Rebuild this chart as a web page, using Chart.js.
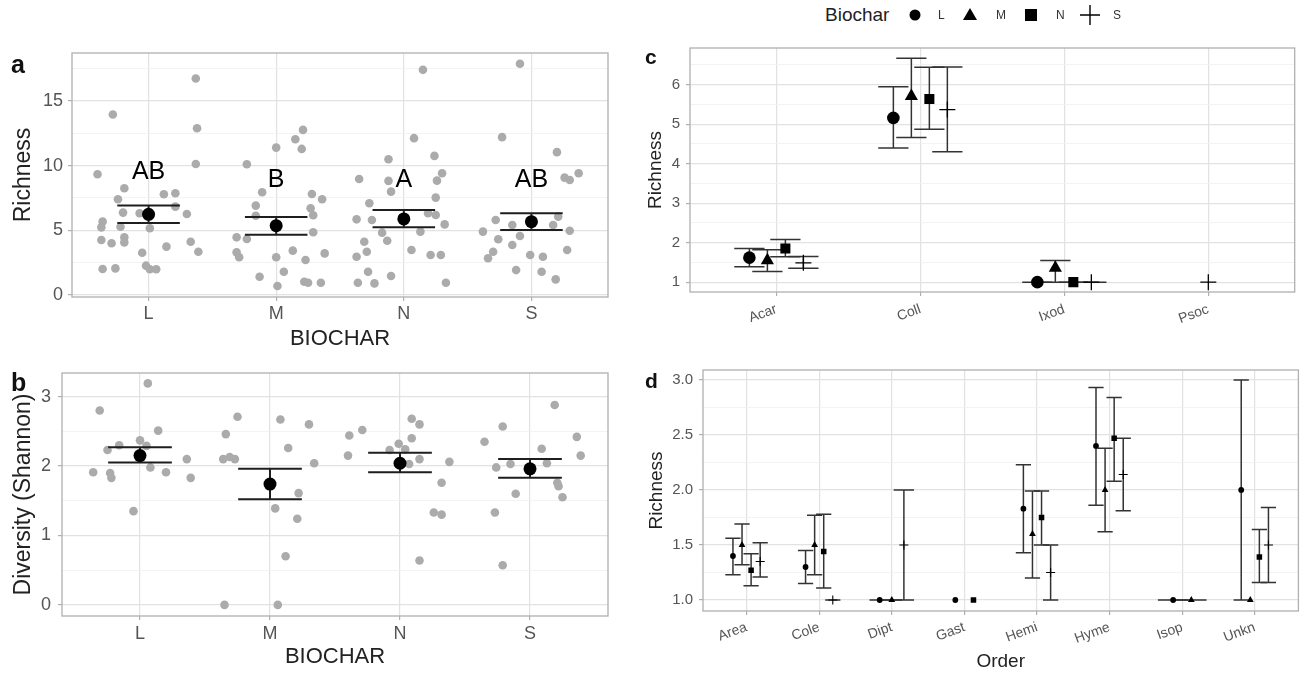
<!DOCTYPE html>
<html>
<head>
<meta charset="utf-8">
<script src="https://cdn.jsdelivr.net/npm/chart.js@4.4.1/dist/chart.umd.min.js"></script>
<style>
  body { margin: 0; background: #fff; width: 1304px; height: 674px; position: relative; overflow: hidden;
         font-family: 'Liberation Sans', Arial, sans-serif; }
  canvas { position: absolute; }
  .tag { position: absolute; font-weight: bold; color: #111; line-height: 1; }
  .lg { position: absolute; line-height: 1; color: #333; }
</style>
</head>
<body>
<canvas id="chartA" width="620" height="360" style="left:0;top:0"></canvas>
<canvas id="chartB" width="620" height="319" style="left:0;top:355px"></canvas>
<canvas id="chartC" width="674" height="300" style="left:630px;top:30px"></canvas>
<canvas id="chartD" width="674" height="339" style="left:630px;top:335px"></canvas>

<div class="tag" style="left:11px;top:52px;font-size:25px">a</div>
<div class="tag" style="left:11px;top:370px;font-size:25px">b</div>
<div class="tag" style="left:645px;top:46px;font-size:21px">c</div>
<div class="tag" style="left:645px;top:370px;font-size:21px">d</div>

<!-- legend of panel c / d -->
<div class="lg" style="left:825px;top:5px;font-size:19px;color:#222">Biochar</div>
<svg style="position:absolute;left:0;top:0" width="1304" height="30">
  <circle cx="915" cy="15" r="5.5" fill="#000"/>
  <polygon points="970,8 977,20 963,20" fill="#000"/>
  <rect x="1025" y="9" width="12" height="12" fill="#000"/>
  <path d="M1080 15 H1100 M1090 5 V25" stroke="#000" stroke-width="1.4"/>
</svg>
<div class="lg" style="left:938px;top:9px;font-size:12px">L</div>
<div class="lg" style="left:996px;top:9px;font-size:12px">M</div>
<div class="lg" style="left:1056px;top:9px;font-size:12px">N</div>
<div class="lg" style="left:1113px;top:9px;font-size:12px">S</div>

<script>
// ---- panel a / b : BIOCHAR treatments ----
const biochar = ['L', 'M', 'N', 'S'];

// jittered plot-level values: [offset from category, value]
const aPtsL = [[-0.40,9.33],[-0.28,13.95],[0.37,16.73],[0.38,12.89],[0.37,10.13],[-0.19,8.25],[-0.24,7.40],[-0.36,5.67],[-0.37,5.23],[-0.37,4.25],[-0.29,4.0],[-0.19,4.46],[-0.19,4.07],[-0.20,6.37],[-0.22,5.28],[-0.07,6.32],[0.01,5.16],[-0.05,3.27],[0.12,7.79],[0.21,7.86],[0.21,6.83],[0.30,6.26],[0.14,3.74],[0.33,4.12],[0.39,3.35],[-0.36,2.01],[-0.26,2.06],[-0.02,2.27],[0.01,1.99],[0.06,1.99]];
const aPtsM = [[-0.23,10.1],[0.00,11.39],[0.15,12.04],[0.21,12.76],[0.20,11.29],[-0.11,7.94],[-0.16,6.91],[-0.16,6.13],[0.28,7.81],[0.36,7.40],[0.27,6.70],[0.29,6.16],[0.29,4.85],[-0.31,4.46],[-0.23,4.33],[-0.31,3.30],[-0.29,2.92],[0.00,2.92],[0.13,3.43],[0.23,2.71],[0.38,3.22],[0.06,1.80],[-0.13,1.42],[0.01,0.70],[0.22,1.03],[0.25,0.95],[0.35,0.95]];
const aPtsN = [[0.15,17.40],[0.08,12.12],[-0.12,10.49],[0.24,10.75],[-0.35,8.97],[-0.12,8.82],[-0.10,7.99],[0.30,9.41],[0.26,8.84],[0.25,7.53],[-0.27,7.09],[-0.37,5.85],[-0.25,5.80],[0.19,6.32],[0.25,6.19],[0.13,4.90],[0.32,5.46],[-0.17,4.82],[-0.13,4.20],[-0.31,4.12],[-0.29,3.35],[-0.37,2.96],[0.06,3.48],[0.21,3.09],[0.29,3.09],[-0.28,1.80],[-0.36,0.95],[-0.23,0.90],[-0.10,1.47],[0.33,0.95]];
const aPtsS = [[-0.09,17.87],[-0.23,12.20],[0.20,11.04],[0.26,9.07],[0.30,8.89],[0.37,9.41],[-0.28,5.80],[-0.38,4.90],[-0.15,5.41],[-0.09,4.56],[-0.26,4.31],[-0.30,3.35],[-0.34,2.84],[-0.15,3.87],[0.21,6.06],[0.17,5.41],[0.30,4.97],[0.28,3.48],[-0.01,3.09],[0.09,2.96],[-0.12,1.93],[0.08,1.80],[0.19,1.21]];
const aMean = [6.24, 5.36, 5.88, 5.67];
const aLo = [5.57, 4.66, 5.23, 5.03];
const aHi = [6.91, 6.03, 6.57, 6.32];
const aLetters = ['AB', 'B', 'A', 'AB'];
const aLetterY = [9.5, 8.9, 8.9, 8.9];

const bPtsL = [[0.06,3.19],[-0.31,2.80],[0.14,2.51],[-0.16,2.30],[-0.25,2.23],[0.00,2.37],[0.05,2.29],[0.08,1.98],[0.20,1.91],[0.36,2.10],[0.39,1.83],[-0.36,1.91],[-0.23,1.90],[-0.22,1.83],[-0.05,1.35]];
const bPtsM = [[-0.34,2.46],[-0.25,2.71],[-0.36,2.10],[-0.31,2.13],[-0.27,2.10],[0.08,2.67],[0.30,2.60],[0.14,2.26],[0.34,2.04],[0.22,1.61],[0.04,1.39],[0.21,1.24],[0.12,0.70],[-0.35,0.0],[0.06,0.0]];
const bPtsN = [[-0.39,2.44],[-0.29,2.52],[-0.40,2.15],[0.09,2.68],[0.15,2.60],[0.09,2.40],[-0.08,2.23],[-0.01,2.32],[0.04,2.24],[0.15,2.10],[0.07,2.03],[0.38,2.06],[0.32,1.76],[0.26,1.33],[0.32,1.30],[0.15,0.64]];
const bPtsS = [[-0.35,2.35],[-0.21,2.57],[0.19,2.88],[0.09,2.25],[0.36,2.42],[0.39,2.15],[-0.26,1.98],[-0.15,2.03],[0.13,2.04],[0.21,1.76],[0.22,1.71],[0.25,1.55],[-0.11,1.60],[-0.27,1.33],[-0.21,0.57]];
const bMean = [2.15, 1.74, 2.04, 1.96];
const bLo = [2.05, 1.52, 1.91, 1.83];
const bHi = [2.27, 1.96, 2.19, 2.10];

// ---- panel c : richness by taxon ----
const cCats = ['Acar', 'Coll', 'Ixod', 'Psoc'];
const cMeanL = [1.62, 5.16, 1.00, null];
const cLoL   = [1.39, 4.40, 1.00, null];
const cHiL   = [1.85, 5.95, 1.00, null];
const cMeanM = [1.55, 5.71, 1.36, null];
const cLoM   = [1.27, 4.66, 1.00, null];
const cHiM   = [1.82, 6.67, 1.55, null];
const cMeanN = [1.85, 5.64, 1.00, null];
const cLoN   = [1.64, 4.87, 1.00, null];
const cHiN   = [2.08, 6.44, 1.00, null];
const cMeanS = [1.49, 5.37, 1.00, 1.00];
const cLoS   = [1.35, 4.30, 1.00, null];
const cHiS   = [1.65, 6.45, 1.00, null];

// ---- panel d : richness by order ----
const dCats = ['Area', 'Cole', 'Dipt', 'Gast', 'Hemi', 'Hyme', 'Isop', 'Unkn'];
const dMeanL = [1.40, 1.30, 1.00, 1.00, 1.83, 2.40, 1.00, 2.00];
const dLoL   = [1.23, 1.15, 1.00, null, 1.43, 1.86, 1.00, 1.00];
const dHiL   = [1.56, 1.45, 1.00, null, 2.23, 2.93, 1.00, 3.00];
const dMeanM = [1.50, 1.50, 1.00, null, 1.60, 2.00, 1.00, 1.00];
const dLoM   = [1.32, 1.23, 1.00, null, 1.20, 1.62, 1.00, null];
const dHiM   = [1.69, 1.77, 1.00, null, 1.99, 2.38, 1.00, null];
const dMeanN = [1.27, 1.44, null, 1.00, 1.75, 2.47, null, 1.39];
const dLoN   = [1.13, 1.11, null, null, 1.50, 2.08, null, 1.16];
const dHiN   = [1.42, 1.78, null, null, 1.99, 2.84, null, 1.64];
const dMeanS = [1.35, 1.00, 1.50, null, 1.25, 2.14, null, 1.50];
const dLoS   = [1.21, 1.00, 1.00, null, 1.00, 1.81, null, 1.16];
const dHiS   = [1.52, 1.00, 2.00, null, 1.50, 2.47, null, 1.84];

// ---- styling ----
const FONT = "'Liberation Sans', Arial, sans-serif";
const GRID_MAJOR = '#e2e2e2';
const GRID_MINOR = '#f0f0f0';
const FRAME = '#b0b0b0';
const AXIS_TEXT = '#555555';
const TITLE = '#222222';
const SHAPES = ['circle', 'triangle', 'rect', 'cross'];

Chart.defaults.font.family = FONT;
Chart.defaults.animation = false;

const isMajor = (v, major) => Math.abs(v / major - Math.round(v / major)) < 1e-6;

// panel frame (theme_light border)
const framePlugin = {
    id: 'frame',
    afterDraw(chart) {
        const {ctx, chartArea: a} = chart;
        ctx.save();
        ctx.strokeStyle = FRAME;
        ctx.lineWidth = 1.3;
        ctx.strokeRect(a.left, a.top, a.right - a.left, a.bottom - a.top);
        ctx.restore();
    }
};

function yScale(o) {
    return {
        type: 'linear', min: o.min, max: o.max,
        afterBuildTicks: s => {
            const t = [];
            for (let v = Math.ceil(o.min / o.step) * o.step; v <= o.max + 1e-9; v += o.step) {
                t.push({value: +v.toFixed(4)});
            }
            s.ticks = t;
        },
        afterFit: s => { s.width = o.width; },
        grid: {
            color: c => isMajor(c.tick.value, o.major) ? GRID_MAJOR : GRID_MINOR,
            lineWidth: c => isMajor(c.tick.value, o.major) ? 1.2 : 0.8,
            tickColor: c => isMajor(c.tick.value, o.major) ? FRAME : 'rgba(0,0,0,0)',
            tickLength: 4
        },
        border: {display: false},
        ticks: {
            autoSkip: false, padding: o.pad, color: AXIS_TEXT, font: {size: o.tickSize},
            callback: v => isMajor(v, o.major) ? o.fmt(v) : ''
        },
        title: {display: true, text: o.title, color: TITLE, font: {size: o.titleSize},
                padding: {top: o.titlePad, bottom: 0}}
    };
}

function xScale(o) {
    return {
        type: 'linear', min: 0.4, max: o.cats.length + 0.6,
        afterBuildTicks: s => { s.ticks = o.cats.map((c, i) => ({value: i + 1})); },
        afterFit: s => { s.height = o.height; },
        grid: {color: GRID_MAJOR, lineWidth: 1.2, tickColor: FRAME, tickLength: 4},
        border: {display: false},
        ticks: {
            autoSkip: false, minRotation: o.rot, maxRotation: o.rot, padding: o.pad,
            color: AXIS_TEXT, font: {size: o.tickSize},
            callback: v => o.cats[Math.round(v) - 1]
        },
        title: o.title
            ? {display: true, text: o.title, color: TITLE, font: {size: o.titleSize},
               padding: {top: 0, bottom: o.titlePad}}
            : {display: false}
    };
}

// line pieces of one error bar, broken by null points
function errorBar(x, lo, hi, w) {
    return [
        {x: x - w, y: hi}, {x: x + w, y: hi}, {x: x, y: null},
        {x: x, y: hi}, {x: x, y: lo}, {x: x, y: null},
        {x: x - w, y: lo}, {x: x + w, y: lo}, {x: x, y: null}
    ];
}

function barDataset(data, color, width) {
    return {
        type: 'scatter', data: data, showLine: true, spanGaps: false,
        borderColor: color, borderWidth: width, pointRadius: 0, order: 2
    };
}

function jitterData(groups) {
    const out = [];
    groups.forEach((g, i) => g.forEach(p => out.push({x: i + 1 + p[0], y: p[1]})));
    return out;
}

// dodge groups within each category like position_dodge(0.5)
function dodged(means, los, his) {
    const pts = means.map(() => []);
    const bars = means.map(() => []);
    for (let i = 0; i < means[0].length; i++) {
        const present = means.map((m, k) => k).filter(k => means[k][i] != null);
        const n = present.length;
        present.forEach((k, j) => {
            const x = i + 1 + (j - (n - 1) / 2) * 0.5 / n;
            pts[k].push({x: x, y: means[k][i]});
            if (los[k][i] != null) bars[k].push(...errorBar(x, los[k][i], his[k][i], 0.42 / n));
        });
    }
    return {pts, bars};
}

const baseOpts = {
    responsive: false,
    events: [],
    plugins: {legend: {display: false}, tooltip: {enabled: false}}
};

// ---------- panel a ----------
const letterPlugin = {
    id: 'letters',
    afterDatasetsDraw(chart) {
        const {ctx, scales: {x, y}} = chart;
        ctx.save();
        ctx.font = '25px ' + FONT;
        ctx.fillStyle = '#000';
        ctx.textAlign = 'center';
        ctx.textBaseline = 'middle';
        aLetters.forEach((t, i) => ctx.fillText(t, x.getPixelForValue(i + 1), y.getPixelForValue(aLetterY[i])));
        ctx.restore();
    }
};

function stripChart(id, pts, mean, lo, hi, yOpts, pad, xOpts, extra) {
    const bars = [];
    mean.forEach((m, i) => bars.push(...errorBar(i + 1, lo[i], hi[i], 0.245)));
    return new Chart(document.getElementById(id), {
        type: 'scatter',
        data: {
            datasets: [
                {data: jitterData(pts), pointRadius: 4.3, pointBackgroundColor: '#ababab',
                 pointBorderWidth: 0, order: 3},
                barDataset(bars, '#1e1e1e', 2),
                {data: mean.map((m, i) => ({x: i + 1, y: m})), pointRadius: 6.5,
                 pointBackgroundColor: '#000', pointBorderWidth: 0, order: 1}
            ]
        },
        options: {
            ...baseOpts,
            layout: {padding: pad},
            scales: {x: xScale(xOpts), y: yScale(yOpts)}
        },
        plugins: [framePlugin].concat(extra)
    });
}

stripChart('chartA', [aPtsL, aPtsM, aPtsN, aPtsS], aMean, aLo, aHi,
    {min: -0.15, max: 18.7, step: 2.5, major: 5, width: 72, pad: 5, tickSize: 18,
     fmt: v => String(v), title: 'Richness', titleSize: 23, titlePad: 10},
    {top: 53, right: 12, left: 0, bottom: 0},
    {cats: biochar, height: 63, rot: 0, pad: 2, tickSize: 18, title: 'BIOCHAR', titleSize: 22, titlePad: 8},
    [letterPlugin]);

stripChart('chartB', [bPtsL, bPtsM, bPtsN, bPtsS], bMean, bLo, bHi,
    {min: -0.16, max: 3.34, step: 0.5, major: 1, width: 62, pad: 7, tickSize: 18,
     fmt: v => String(v), title: 'Diversity (Shannon)', titleSize: 23, titlePad: 10},
    {top: 18, right: 12, left: 0, bottom: 0},
    {cats: biochar, height: 58, rot: 0, pad: 3, tickSize: 18, title: 'BIOCHAR', titleSize: 22, titlePad: 4},
    []);

// ---------- panels c and d ----------
function dodgeChart(id, cats, means, los, his, sizes, yOpts, pad, xOpts) {
    const d = dodged(means, los, his);
    const datasets = [];
    SHAPES.forEach((shape, k) => {
        datasets.push(barDataset(d.bars[k], '#333333', 1.5));
        datasets.push({
            data: d.pts[k], pointStyle: shape, pointRadius: sizes[k],
            pointBackgroundColor: '#000', pointBorderColor: '#000',
            pointBorderWidth: shape === 'cross' ? sizes[4] : 0, order: 1
        });
    });
    return new Chart(document.getElementById(id), {
        type: 'scatter',
        data: {datasets},
        options: {
            ...baseOpts,
            layout: {padding: pad},
            scales: {x: xScale({cats, ...xOpts}), y: yScale(yOpts)}
        },
        plugins: [framePlugin]
    });
}

dodgeChart('chartC', cCats,
    [cMeanL, cMeanM, cMeanN, cMeanS], [cLoL, cLoM, cLoN, cLoS], [cHiL, cHiM, cHiN, cHiS],
    [6.3, 7.6, 7.1, 8, 1.3],
    {min: 0.75, max: 6.93, step: 0.5, major: 1, width: 60, pad: 6, tickSize: 15,
     fmt: v => String(v), title: 'Richness', titleSize: 19, titlePad: 14},
    {top: 18, right: 5, left: 0, bottom: 0},
    {height: 38, rot: 20, pad: 5, tickSize: 14});

dodgeChart('chartD', dCats,
    [dMeanL, dMeanM, dMeanN, dMeanS], [dLoL, dLoM, dLoN, dLoS], [dHiL, dHiM, dHiN, dHiS],
    [2.9, 3.9, 3.9, 4.5, 1.1],
    {min: 0.9, max: 3.09, step: 0.25, major: 0.5, width: 73, pad: 6, tickSize: 15,
     fmt: v => v.toFixed(1), title: 'Richness', titleSize: 19, titlePad: 15},
    {top: 35, right: 5, left: 0, bottom: 0},
    {height: 63, rot: 20, pad: 4, tickSize: 14, title: 'Order', titleSize: 19, titlePad: 1});
</script>
</body>
</html>
